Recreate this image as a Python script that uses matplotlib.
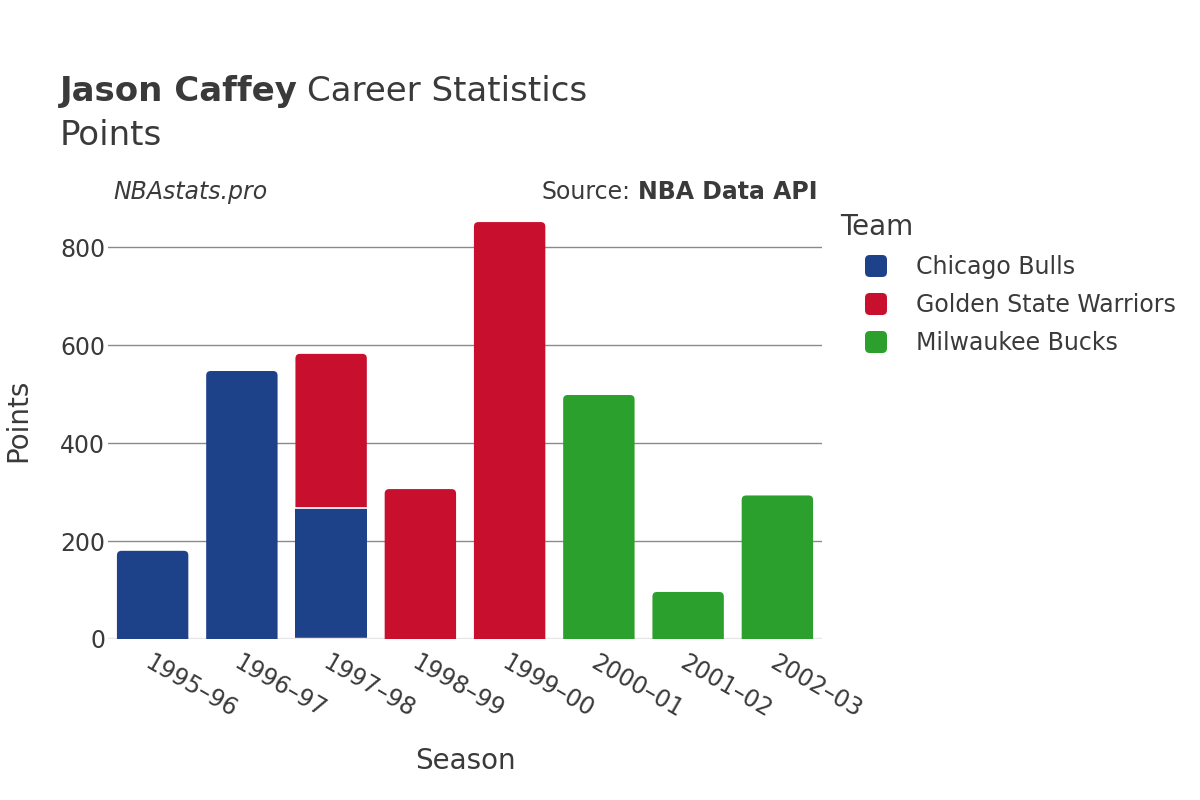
import numpy as np
import matplotlib
matplotlib.use("Agg")
import matplotlib.pyplot as plt
from matplotlib.patches import FancyBboxPatch, PathPatch
from matplotlib.path import Path

# data
seasons = ["1995–96", "1996–97", "1997–98", "1998–99", "1999–00", "2000–01", "2001–02", "2002–03"]
teams = ["Chicago Bulls", "Golden State Warriors", "Milwaukee Bucks"]
bulls = [180, 547, 267, 0, 0, 0, 0, 0]
warriors = [0, 0, 315, 306, 851, 0, 0, 0]
bucks = [0, 0, 0, 0, 0, 498, 96, 293]
colors = ["#1D428A", "#C8102E", "#2CA02C"]

txt = "#3a3a3a"
plt.rcParams['font.family'] = ['DejaVu Sans']

fig = plt.figure(figsize=(12, 8), dpi=100)
ax = fig.add_axes([0.09, 0.20125, 0.595, 0.5475])

x = np.arange(len(seasons))
ax.set_xlim(-0.5, len(seasons) - 0.5)
ax.set_ylim(0, 894)

# rounding in pixels -> data units
r_px = 4.5
rx = r_px * len(seasons) / (0.595 * 1200)
ry = r_px * 894.0 / (0.5475 * 800)


def top_rounded(bx, by, bw, bh):
    t = by + bh
    verts = [(bx, by), (bx + bw, by), (bx + bw, t - ry), (bx + bw, t), (bx + bw - rx, t),
             (bx + rx, t), (bx, t), (bx, t - ry), (bx, by)]
    codes = [Path.MOVETO, Path.LINETO, Path.LINETO, Path.CURVE3, Path.CURVE3,
             Path.LINETO, Path.CURVE3, Path.CURVE3, Path.CLOSEPOLY]
    return Path(verts, codes)


bottom = np.zeros(len(seasons))
series = [bulls, warriors, bucks]
for i, vals in enumerate(series):
    vals = np.array(vals, dtype=float)
    bars = ax.bar(x, vals, width=0.8, bottom=bottom, color=colors[i], label=teams[i])
    for j, b in enumerate(bars):
        if vals[j] <= 0:
            b.set_visible(False)
            continue
        bx, by, bw, bh = b.get_x(), b.get_y(), b.get_width(), b.get_height()
        top_seg = all(series[k][j] == 0 for k in range(i + 1, len(series)))
        if top_seg:
            b.set_visible(False)
            ax.add_patch(PathPatch(top_rounded(bx, by, bw, bh), facecolor=colors[i],
                                   edgecolor="none", zorder=2))
        if by > 0:
            ax.plot([bx, bx + bw], [by, by], color="white", linewidth=1.2, zorder=3)
    bottom += vals

ax.set_yticks([0, 200, 400, 600, 800])
ax.yaxis.grid(True, color="#8a8a8a", linewidth=1)
ax.set_axisbelow(True)
for s in ax.spines.values():
    s.set_visible(False)
ax.axhline(0, color="#e6e6e6", linewidth=2.5, zorder=1)
ax.tick_params(axis="both", length=0, labelsize=17, labelcolor=txt)
ax.tick_params(axis="y", pad=2)
ax.tick_params(axis="x", pad=8)
ax.set_xticks(x)
ax.set_xticklabels(seasons, rotation=-30, ha="left", va="top", rotation_mode="anchor")

ax.set_xlabel("Season", fontsize=20, color=txt, labelpad=18)
ax.set_ylabel("Points", fontsize=20, color=txt, labelpad=20)

# titles
t1 = fig.text(0.05, 0.874, "Jason Caffey", fontsize=24.5, fontweight="bold", color=txt, va="baseline")
fig.canvas.draw()
bb = t1.get_window_extent()
fig.text(bb.x1 / 1200 + 0.008, 0.874, "Career Statistics", fontsize=24.5, color=txt, va="baseline")
fig.text(0.05, 0.819, "Points", fontsize=24.5, color=txt, va="baseline")

fig.text(113 / 1200, 0.76, "NBAstats.pro", fontsize=17, style="italic", color=txt, va="center")
s1 = fig.text(818 / 1200, 0.76, "NBA Data API", fontsize=17, fontweight="bold", color=txt,
              va="center", ha="right")
fig.canvas.draw()
bb2 = s1.get_window_extent()
fig.text(bb2.x0 / 1200 - 0.007, 0.76, "Source:", fontsize=17, color=txt, va="center", ha="right")

# legend
fig.text(840 / 1200, 1 - 227 / 800, "Team", fontsize=20, color=txt, va="center")
for i, t in enumerate(teams):
    yy = 266 + 38 * i
    fig.patches.append(FancyBboxPatch((865 / 1200, 1 - (yy + 11) / 800),
                                      22 / 1200, 22 / 800,
                                      boxstyle="round,pad=0,rounding_size=0.004",
                                      mutation_aspect=1.5,
                                      transform=fig.transFigure, facecolor=colors[i],
                                      edgecolor="none"))
    fig.text(916 / 1200, 1 - (yy + 1) / 800, t, fontsize=17, color=txt, va="center")

fig.savefig("out.png", dpi=100)
